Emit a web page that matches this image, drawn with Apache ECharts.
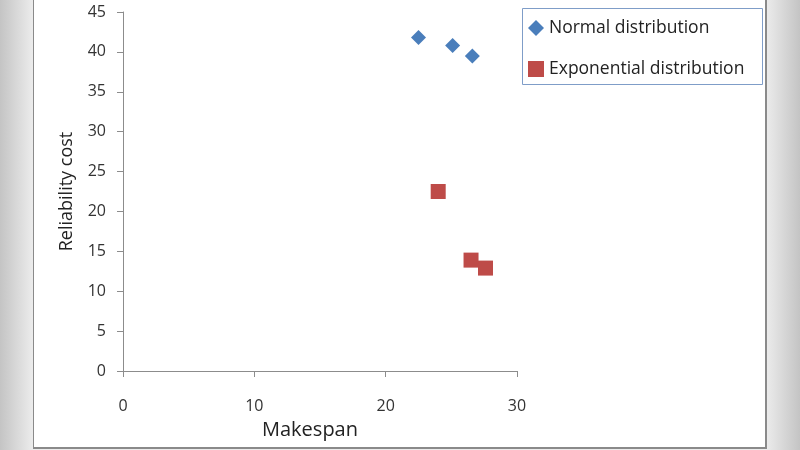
<!DOCTYPE html>
<html>
<head>
<meta charset="utf-8">
<script src="https://cdn.jsdelivr.net/npm/echarts@6/dist/echarts.min.js"></script>
<style>
html,body{margin:0;padding:0;overflow:hidden;}
#wrap{position:relative;width:800px;height:450px;
background:linear-gradient(to right,#c4c4c4 0px,#ececec 33px,#ececec 766px,#c4c4c4 800px);}
#panel{position:absolute;left:33px;top:-2px;width:731px;height:448px;background:#fff;border:1px solid #8a8a8a;border-width:1px 2px 2px 1px;}
#chart{position:absolute;left:0;top:0;width:800px;height:450px;}
</style>
</head>
<body>
<div id="wrap"><div id="panel"></div><div id="chart"></div></div>
<script>
const seriesNames = ["Normal distribution", "Exponential distribution"];
const normalData = [[22.5, 41.8], [25.1, 40.8], [26.6, 39.5]];
const exponentialData = [[24.0, 22.5], [26.5, 13.9], [27.6, 12.9]];
const xTicks = [0, 10, 20, 30];
const yTicks = [0, 5, 10, 15, 20, 25, 30, 35, 40, 45];

const font = "'Open Sans', 'Liberation Sans', sans-serif";
const chart = echarts.init(document.getElementById('chart'), null, {renderer: 'canvas'});
chart.setOption({
  backgroundColor: 'transparent',
  animation: false,
  textStyle: {fontFamily: font},
  grid: {left: 123, right: 283, top: 12, bottom: 79, containLabel: false, outerBoundsMode: 'none'},
  graphic: [{
    type: 'rect', left: 522, top: 8, z: 0,
    shape: {width: 240, height: 76},
    style: {fill: '#fff', stroke: '#7f9dc8', lineWidth: 1}
  }],
  legend: {
    orient: 'vertical', left: 528, top: 19, padding: 0,
    itemGap: 23, itemWidth: 16, itemHeight: 16,
    textStyle: {fontFamily: font, fontSize: 17.5, color: '#222', padding: [0, 0, 0, 0]},
    data: [{name: seriesNames[0], icon: 'diamond'}, {name: seriesNames[1], icon: 'rect'}]
  },
  xAxis: {
    type: 'value', min: xTicks[0], max: xTicks[xTicks.length - 1], interval: 10,
    name: 'Makespan', nameLocation: 'middle', nameGap: 49,
    nameTextStyle: {fontFamily: font, fontSize: 20, color: '#222', padding: [0, 20, 0, 0]},
    axisLine: {show: true, lineStyle: {color: '#8c8c8c', width: 1}},
    axisTick: {show: true, inside: false, length: 6, lineStyle: {color: '#8c8c8c'}},
    axisLabel: {fontFamily: font, fontSize: 16, color: '#333', margin: 27},
    splitLine: {show: false}
  },
  yAxis: {
    type: 'value', min: yTicks[0], max: yTicks[yTicks.length - 1], interval: 5,
    name: 'Reliability cost', nameLocation: 'middle', nameGap: 47, nameRotate: 90,
    nameTextStyle: {fontFamily: font, fontSize: 18, color: '#222'},
    axisLine: {show: true, lineStyle: {color: '#8c8c8c', width: 1}},
    axisTick: {show: true, inside: false, length: 6, lineStyle: {color: '#8c8c8c'}},
    axisLabel: {fontFamily: font, fontSize: 16, color: '#333', margin: 17},
    splitLine: {show: false}
  },
  series: [
    {name: seriesNames[0], type: 'scatter', data: normalData, symbol: 'diamond', symbolSize: 15,
     itemStyle: {color: '#4a7ebb', opacity: 1}},
    {name: seriesNames[1], type: 'scatter', data: exponentialData, symbol: 'rect', symbolSize: 15,
     itemStyle: {color: '#be4b48', opacity: 1}}
  ]
});
</script>
</body>
</html>
